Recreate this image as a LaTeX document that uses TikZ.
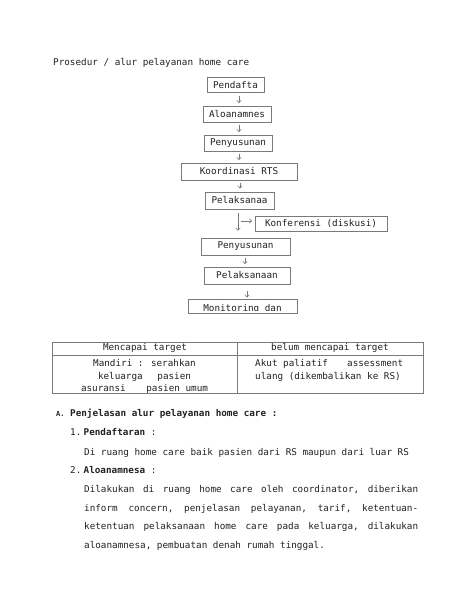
\documentclass[tikz,border=0pt]{standalone}
\usepackage{fontspec}
\setmainfont{DejaVu Sans Mono}
\usetikzlibrary{arrows.meta,calc}
\definecolor{txt}{HTML}{222222}
\definecolor{ln}{HTML}{7A7A7A}
\begin{document}
\begin{tikzpicture}[x=1bp,y=-1bp,
  every node/.style={font=\fontsize{9.3bp}{11bp}\selectfont, text=txt, inner sep=0pt},
  flowbox/.style={draw=ln, line width=0.7bp, minimum height=16bp},
  arr/.style={draw=ln, line width=0.6bp, -{Straight Barb[length=2.5bp,width=4.5bp]}},
  tl/.style={draw=ln, line width=0.7bp},
  lt/.style={anchor=base west},
  ct/.style={anchor=base}]
\useasboundingbox (0,0) rectangle (474,613);
\fill[white] (0,0) rectangle (474,613);

\node[lt] (title) at (53,66) {Prosedur / alur pelayanan home care};

% flow boxes
\node[flowbox, minimum width=57bp, minimum height=15bp] (b1) at (235.5,85) {Pendafta};
\node[flowbox, minimum width=68bp] (b2) at (237,114) {Aloanamnes};
\node[flowbox, minimum width=68bp] (b3) at (238,143) {Penyusunan};
\node[flowbox, minimum width=116bp, minimum height=17bp] (b4) at (239,171.5) {Koordinasi RTS};
\node[flowbox, minimum width=69bp, minimum height=17bp] (b5) at (239.5,200.5) {Pelaksanaa};
\node[flowbox, minimum width=132bp, minimum height=15bp] (b6) at (321,223.5) {Konferensi (diskusi)};
\node[flowbox, minimum width=89bp, minimum height=17bp] (b7) at (245.5,246.5) {Penyusunan};
\node[flowbox, minimum width=86bp, minimum height=17bp] (b8) at (247,275.5) {Pelaksanaan};
\node[flowbox, minimum width=109bp, minimum height=14bp] (b9) at (242.5,306) {};
\begin{scope}
  \clip (b9.north west) rectangle ($(b9.east)+(0,4.5)$);
  \node[ct] (b9t) at (242.5,311) {Monitoring dan};
\end{scope}

% arrows
\draw[arr, shorten >=2.5bp, shorten <=3bp] (b1.south -| 239,0) -- (b2.north -| 239,0);
\draw[arr, shorten >=2.5bp, shorten <=2.5bp] (b2.south -| 239,0) -- (b3.north -| 239,0);
\draw[arr, shorten >=2.5bp, shorten <=2.5bp] (b3.south -| 239,0) -- (b4.north -| 239,0);
\draw[arr, shorten >=3bp, shorten <=3bp] (b4.south -| 240,0) -- (b5.north -| 240,0);
\draw[arr, shorten >=7bp, shorten <=4bp] (b5.south -| 238,0) -- (b7.north -| 238,0);
\draw[arr, shorten >=2.5bp] (241,221) -- (b6.west |- 241,221);
\draw[arr, shorten >=2.5bp, shorten <=3bp] (b7.south -| 245,0) -- (b8.north -| 245,0);
\draw[arr, shorten >=1bp, shorten <=7bp] (b8.south -| 247,0) -- (b9.north -| 247,0);

% table
\coordinate (tnw) at (52,342);
\coordinate (tse) at (423,393);
\draw[tl] (tnw) rectangle (tse);
\draw[tl] (52,355) -- (423,355);
\draw[tl] (237,342) -- (237,393);
\node[ct] (h1) at (145,350.7) {Mencapai target};
\node[ct] (h2) at (330,350.7) {belum mencapai target};
\node[ct] (c11) at (144.5,366) {Mandiri : serahkan};
\node[ct] (c12) at (144.5,379.3) {\makebox[93bp]{keluarga\hfill pasien}};
\node[ct] (c13) at (144.5,391.5) {\makebox[127bp]{asuransi\hfill pasien umum}};
\node[lt] (c21) at (255,366) {\makebox[148bp][l]{Akut paliatif\hfill assessment}};
\node[lt] (c22) at (255,379.3) {ulang (dikembalikan ke RS)};

% section A
\node[lt, font=\fontsize{7bp}{8bp}\selectfont\bfseries] (sa) at (56,416) {A.};
\node[lt, font=\fontsize{9.3bp}{11bp}\selectfont\bfseries] (sat) at (70,416) {Penjelasan alur pelayanan home care :};
\node[lt] (n1) at (70,435) {1.};
\node[lt] (n1t) at (83.5,435) {\textbf{Pendaftaran} :};
\node[lt] (p1) at (84,455) {Di ruang home care baik pasien dari RS maupun dari luar RS};
\node[lt] (n2) at (70,473) {2.};
\node[lt] (n2t) at (83.5,473) {\textbf{Aloanamnesa} :};
\node[lt] (q1) at (84,492) {\makebox[334bp][l]{Dilakukan\hfill di\hfill ruang\hfill home\hfill care\hfill oleh\hfill coordinator,\hfill diberikan}};
\node[lt] (q2) at (84,511) {\makebox[334bp][l]{inform\hfill concern,\hfill penjelasan\hfill pelayanan,\hfill tarif,\hfill ketentuan-}};
\node[lt] (q3) at (84,529.5) {\makebox[334bp][l]{ketentuan\hfill pelaksanaan\hfill home\hfill care\hfill pada\hfill keluarga,\hfill dilakukan}};
\node[lt] (q4) at (84,548.5) {aloanamnesa, pembuatan denah rumah tinggal.};
\end{tikzpicture}
\end{document}
